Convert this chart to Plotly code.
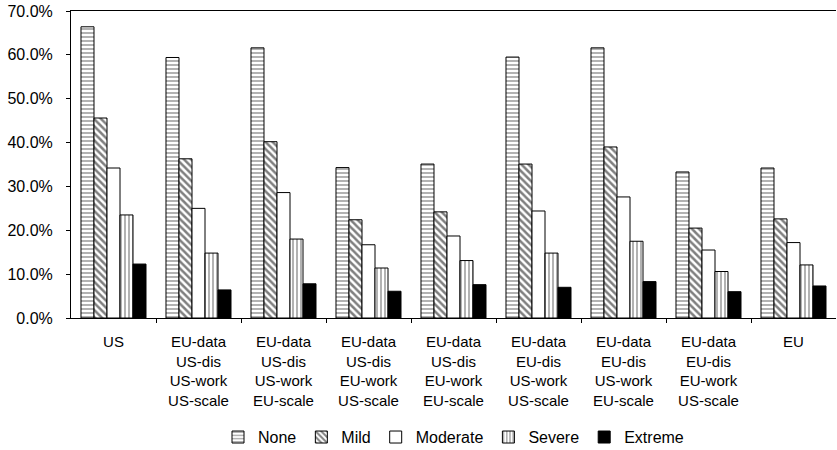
import plotly.graph_objects as go

categories = ["US",
              "EU-data<br>US-dis<br>US-work<br>US-scale",
              "EU-data<br>US-dis<br>US-work<br>EU-scale",
              "EU-data<br>US-dis<br>EU-work<br>US-scale",
              "EU-data<br>US-dis<br>EU-work<br>EU-scale",
              "EU-data<br>EU-dis<br>US-work<br>US-scale",
              "EU-data<br>EU-dis<br>US-work<br>EU-scale",
              "EU-data<br>EU-dis<br>EU-work<br>US-scale",
              "EU"]

none_vals = [66.4, 59.4, 61.6, 34.3, 35.1, 59.5, 61.6, 33.3, 34.2]
mild_vals = [45.6, 36.3, 40.2, 22.4, 24.2, 35.1, 39.0, 20.5, 22.6]
moderate_vals = [34.2, 25.0, 28.6, 16.7, 18.7, 24.4, 27.6, 15.5, 17.2]
severe_vals = [23.5, 14.8, 18.0, 11.4, 13.1, 14.8, 17.5, 10.6, 12.1]
extreme_vals = [12.3, 6.4, 7.8, 6.1, 7.6, 7.0, 8.3, 6.0, 7.3]

y_ticks = [0, 10, 20, 30, 40, 50, 60, 70]
y_ticklabels = ["0.0%", "10.0%", "20.0%", "30.0%", "40.0%", "50.0%", "60.0%", "70.0%"]

x = list(range(len(categories)))

series = [
    ("None", none_vals, dict(shape="-", size=4, solidity=0.3, fgcolor="black", bgcolor="white"), "white"),
    ("Mild", mild_vals, dict(shape="\\", size=5, solidity=0.5, fgcolor="black", bgcolor="white"), "white"),
    ("Moderate", moderate_vals, None, "white"),
    ("Severe", severe_vals, dict(shape="|", size=4, solidity=0.3, fgcolor="black", bgcolor="white"), "white"),
    ("Extreme", extreme_vals, None, "black"),
]

fig = go.Figure()
for name, vals, pat, color in series:
    marker = dict(color=color, line=dict(color="black", width=1))
    if pat:
        marker["pattern"] = pat
    fig.add_trace(go.Bar(name=name, x=x, y=vals, marker=marker))

fig.update_layout(
    width=837, height=450,
    margin=dict(l=71, r=1, t=11, b=132, autoexpand=False),
    barmode="group", bargap=0.235, bargroupgap=0,
    plot_bgcolor="white", paper_bgcolor="white",
    font=dict(family="Liberation Sans, Arial, sans-serif", color="black", size=16),
    showlegend=True,
    legend=dict(orientation="h", x=0.5, xanchor="center", y=-0.388, yanchor="middle",
                font=dict(size=16), itemwidth=30, traceorder="normal"),
)
fig.update_xaxes(
    tickmode="array", tickvals=x, ticktext=categories,
    range=[-0.5, len(categories) - 0.5], automargin=False,
    showline=True, linecolor="black", linewidth=1, mirror=True,
    ticks="", showgrid=False, ticklabelstandoff=10,
    tickfont=dict(family="Liberation Sans Narrow, Arial Narrow, Liberation Sans, sans-serif", size=15),
)
# category divider ticks
fig.update_xaxes(minor=dict(tickmode="array", tickvals=[i + 0.5 for i in x[:-1]], ticks="outside",
                            ticklen=4, tickcolor="black", showgrid=False))
fig.update_yaxes(
    range=[0, 70], tickmode="array", tickvals=y_ticks, ticktext=y_ticklabels,
    showline=True, linecolor="black", linewidth=1, automargin=False,
    ticks="outside", ticklen=4, tickcolor="black", showgrid=False, zeroline=False,
    ticklabelstandoff=10, tickfont=dict(size=16),
)

fig.write_html("out.html", config={"displayModeBar": False},
               post_script="document.body.style.margin='0px';")
